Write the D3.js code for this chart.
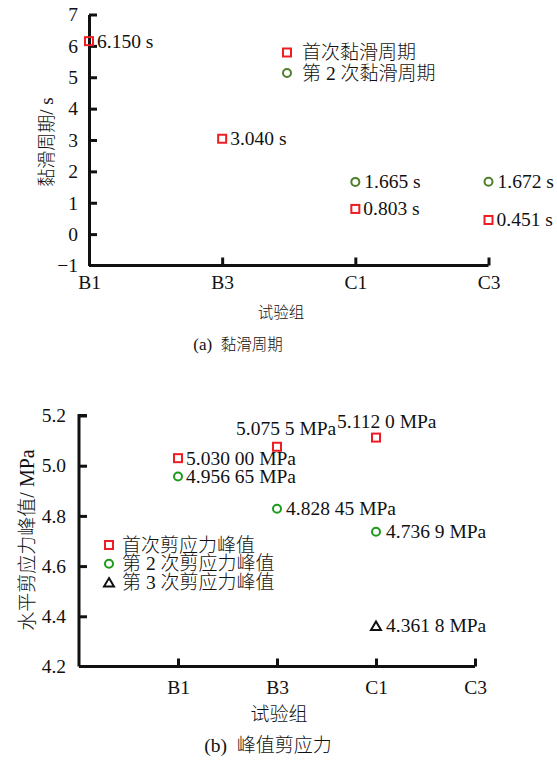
<!DOCTYPE html>
<html>
<head>
<meta charset="utf-8">
<script src="https://cdn.jsdelivr.net/npm/d3@7"></script>
<style>
  html, body { margin: 0; padding: 0; background: #fff; }
  svg text { font-family: "Liberation Serif", "Noto Sans CJK SC", serif; fill: #111; }
  svg tspan.cjk { font-family: "Noto Sans CJK SC", sans-serif; font-weight: 300; }
</style>
</head>
<body>
<svg id="fig" width="557" height="760"></svg>
<script>
// ---------- (a) stick-slip period ----------
const groupsA = ["B1", "B3", "C1", "C3"];
const firstPeriod = [6.150, 3.040, 0.803, 0.451];          // 首次黏滑周期, s
const secondPeriodGroups = ["C1", "C3"];
const secondPeriod = [1.665, 1.672];                        // 第 2 次黏滑周期, s
const ticksA = [-1, 0, 1, 2, 3, 4, 5, 6, 7];

// ---------- (b) peak shear stress ----------
const groupsB = ["B1", "B3", "C1", "C3"];
const peak1Groups = ["B1", "B3", "C1"];
const peak1 = [5.03000, 5.0755, 5.1120];                    // 首次剪应力峰值, MPa
const peak1Dec = [5, 4, 4];
const peak2Groups = ["B1", "B3", "C1"];
const peak2 = [4.95665, 4.82845, 4.7369];                   // 第 2 次剪应力峰值, MPa
const peak2Dec = [5, 5, 4];
const peak3Groups = ["C1"];
const peak3 = [4.3618];                                     // 第 3 次剪应力峰值, MPa
const peak3Dec = [4];
const ticksB = [4.2, 4.4, 4.6, 4.8, 5.0, 5.2];

const RED = "#ee1c23", OLIVE = "#4d7f2c", GREEN = "#1c9b1c", BLACK = "#111";
const FS = 19.5;          // numbers, data labels, legend
const svg = d3.select("#fig");

// groups decimals with a space after the third decimal place: 5.03000 -> "5.030 00"
function fmtGrouped(v, dec) {
  const s = v.toFixed(dec);
  const i = s.indexOf(".");
  const frac = s.slice(i + 1);
  return frac.length > 3 ? s.slice(0, i + 1) + frac.slice(0, 3) + " " + frac.slice(3) : s;
}

// writes mixed Latin / CJK text, CJK runs get their own size
function mixedText(sel, str, latinSize, cjkSize) {
  sel.attr("font-size", latinSize).attr("xml:space", "preserve");
  const runs = str.match(/[\u3400-\u9fff]+|[^\u3400-\u9fff]+/g);
  runs.forEach(r => {
    const t = sel.append("tspan").text(r);
    if (/[\u3400-\u9fff]/.test(r)) t.attr("class", "cjk").attr("font-size", cjkSize);
  });
  return sel;
}

function drawMarker(g, type, x, y, color) {
  if (type === "square") {
    g.append("rect").attr("x", x - 4).attr("y", y - 4).attr("width", 8).attr("height", 8)
      .attr("fill", "none").attr("stroke", color).attr("stroke-width", 2);
  } else if (type === "circle") {
    g.append("circle").attr("cx", x).attr("cy", y).attr("r", 4)
      .attr("fill", "none").attr("stroke", color).attr("stroke-width", 2);
  } else {
    g.append("path").attr("d", `M${x},${y - 4.5}L${x + 5},${y + 4}L${x - 5},${y + 4}Z`)
      .attr("fill", "none").attr("stroke", color).attr("stroke-width", 2);
  }
}

function styleAxis(g) {
  g.select(".domain").attr("stroke", BLACK).attr("stroke-width", 3);
  g.selectAll(".tick line").attr("stroke", BLACK).attr("stroke-width", 3);
  g.selectAll(".tick text").attr("font-size", FS).attr("fill", BLACK)
    .attr("font-family", "Liberation Serif, serif");
}

// ================= panel (a) =================
{
  const g = svg.append("g");
  const x = d3.scalePoint().domain(groupsA).range([89, 488.5]);
  const y = d3.scaleLinear().domain([-1, 7]).range([265.5, 14.5]);

  const yAx = g.append("g").attr("transform", `translate(${x("B1")},0)`)
    .call(d3.axisLeft(y).tickValues(ticksA).tickSize(-8).tickSizeOuter(0).tickPadding(11)
      .tickFormat(d => d < 0 ? "\u2212" + Math.abs(d) : d));
  styleAxis(yAx);
  yAx.selectAll(".tick").filter(d => d === -1).select("line").remove();

  const xAx = g.append("g").attr("transform", `translate(0,${y(-1)})`)
    .call(d3.axisBottom(x).tickSize(-8).tickSizeOuter(0).tickPadding(10));
  styleAxis(xAx);
  xAx.selectAll(".tick").filter(d => d === "B1").select("line").remove();
  xAx.select(".domain").attr("d", `M${x("B1")},0H${x("C3")}`);

  mixedText(g.append("text").attr("transform", "translate(53,142) rotate(-90)")
    .attr("text-anchor", "middle"), "黏滑周期/ s", 19, 18);
  mixedText(g.append("text").attr("x", 281).attr("y", 318).attr("text-anchor", "middle"),
    "试验组", 16, 15.5);
  mixedText(g.append("text").attr("x", 238).attr("y", 350).attr("text-anchor", "middle"),
    "(a)  黏滑周期", 17, 15.5);

  const mk = g.append("g");
  firstPeriod.forEach((v, i) => {
    const cx = x(groupsA[i]), cy = y(v);
    drawMarker(mk, "square", cx, cy, RED);
    mk.append("text").attr("x", cx + 8).attr("y", cy + 6.5).attr("font-size", FS)
      .text(v.toFixed(3) + " s");
  });
  secondPeriod.forEach((v, i) => {
    const cx = x(secondPeriodGroups[i]), cy = y(v);
    drawMarker(mk, "circle", cx, cy, OLIVE);
    mk.append("text").attr("x", cx + 9).attr("y", cy + 6.5).attr("font-size", FS)
      .text(v.toFixed(3) + " s");
  });

  const lg = g.append("g");
  [["square", RED, "首次黏滑周期"], ["circle", OLIVE, "第 2 次黏滑周期"]].forEach((d, i) => {
    const ly = 52.5 + i * 20.5;
    drawMarker(lg, d[0], 287, ly, d[1]);
    mixedText(lg.append("text").attr("x", 302).attr("y", ly + 6.5), d[2], FS, 19);
  });
}

// ================= panel (b) =================
{
  const g = svg.append("g");
  const x = d3.scaleLinear().domain([0, groupsB.length]).range([79, 475]);
  const y = d3.scaleLinear().domain([4.2, 5.2]).range([666.5, 415.5]);
  const xi = name => x(groupsB.indexOf(name) + 1);

  const yAx = g.append("g").attr("transform", `translate(${x(0)},0)`)
    .call(d3.axisLeft(y).tickValues(ticksB).tickSize(-8).tickSizeOuter(0).tickPadding(13)
      .tickFormat(d3.format(".1f")));
  styleAxis(yAx);
  yAx.selectAll(".tick").filter(d => d === 4.2).select("line").remove();
  yAx.select(".domain").attr("d", `M0,${y(4.2)}V${y(5.2)}H8`);

  const xAx = g.append("g").attr("transform", `translate(0,${y(4.2)})`)
    .call(d3.axisBottom(x).tickValues(d3.range(1, groupsB.length + 1))
      .tickFormat(i => groupsB[i - 1]).tickSize(-8).tickSizeOuter(0).tickPadding(14));
  styleAxis(xAx);
  xAx.select(".domain").attr("d", `M${x(0)},0H${x(groupsB.length)}`);

  mixedText(g.append("text").attr("transform", "translate(34,540) rotate(-90)")
    .attr("text-anchor", "middle"), "水平剪应力峰值/ MPa", 20, 19);
  mixedText(g.append("text").attr("x", 279).attr("y", 721).attr("text-anchor", "middle"),
    "试验组", 19, 19);
  mixedText(g.append("text").attr("x", 268).attr("y", 752).attr("text-anchor", "middle"),
    "(b)  峰值剪应力", 19.5, 19);

  const mk = g.append("g");
  // label placement relative to each marker
  const off1 = [[8, 6.5], [-41, -12], [-39, -10]];
  const off2 = [[8, 6.5], [9, 6.5], [10, 6.5]];
  const off3 = [[10, 6.5]];
  const series = [
    [peak1Groups, peak1, peak1Dec, "square", RED, off1],
    [peak2Groups, peak2, peak2Dec, "circle", GREEN, off2],
    [peak3Groups, peak3, peak3Dec, "triangle", BLACK, off3]
  ];
  series.forEach(([grp, vals, decs, type, col, offs]) => {
    vals.forEach((v, i) => {
      const cx = xi(grp[i]), cy = y(v);
      drawMarker(mk, type, cx, cy, col);
      mk.append("text").attr("x", cx + offs[i][0]).attr("y", cy + offs[i][1])
        .attr("font-size", FS).attr("xml:space", "preserve")
        .text(fmtGrouped(v, decs[i]) + " MPa");
    });
  });

  const lg = g.append("g");
  [["square", RED, "首次剪应力峰值"], ["circle", GREEN, "第 2 次剪应力峰值"],
   ["triangle", BLACK, "第 3 次剪应力峰值"]].forEach((d, i) => {
    const ly = 545 + i * 18.8;
    drawMarker(lg, d[0], 109, ly, d[1]);
    mixedText(lg.append("text").attr("x", 122).attr("y", ly + 6.5), d[2], FS, 19);
  });
}
</script>
</body>
</html>
